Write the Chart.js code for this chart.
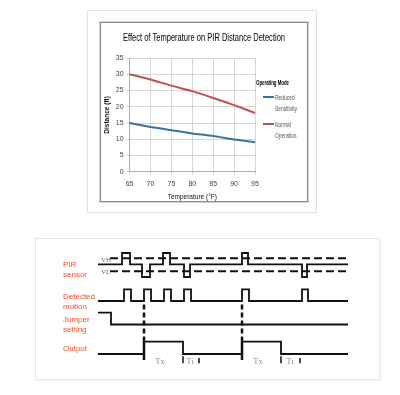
<!DOCTYPE html>
<html>
<head>
<meta charset="utf-8">
<script src="https://cdn.jsdelivr.net/npm/chart.js@4.4.0/dist/chart.umd.min.js"></script>
<style>
  html, body { margin: 0; padding: 0; background: #fff; width: 400px; height: 395px; overflow: hidden; position: relative; }
  #outerTop { position: absolute; left: 87px; top: 10px; width: 230px; height: 203px; border: 1px solid #e2e2e2; box-sizing: border-box; }
  #plotBox { position: absolute; left: 100px; top: 22px; width: 208px; height: 180px; border: 1px solid #8a8a8a; box-shadow: 0 0 0 1px #d2d2d2; box-sizing: border-box; background: #fff; }
  #diagBox { position: absolute; left: 35px; top: 238px; width: 345px; height: 142px; border: 1px solid #e6e6e6; box-sizing: border-box; box-shadow: 1px 1px 2px rgba(0,0,0,0.05); }
  canvas { display: block; }
</style>
</head>
<body>
<div id="outerTop"></div>
<div id="plotBox"><canvas id="tempChart" width="206" height="178"></canvas></div>
<div id="diagBox"><canvas id="timingChart" width="343" height="140"></canvas></div>
<script>
// top chart: detection distance vs temperature
const temps = ['65', '70', '75', '80', '85', '90', '95'];
const reducedDist = [15, 13.8, 12.8, 11.8, 11, 9.9, 9.1];
const normalDist = [30, 28.4, 26.5, 24.8, 22.7, 20.5, 18.1];
const reducedLegend = ['Reduced', 'Sensitivity'];
const normalLegend = ['Normal', 'Operation'];
const chartTitle = 'Effect of Temperature on PIR Distance Detection';

// timing diagram (time in arbitrary units, levels per lane)
const tEnd = 250;
const pirUpPulses = [[24, 32], [65, 72], [144, 150]];
const pirDownPulses = [[44, 52], [86, 92], [204, 209]];
const motionPulses = [[26, 33], [46, 53], [66, 73], [86, 93], [144, 151], [204, 210]];
const jumperFall = 13;
const outputHigh = [[46, 85], [144, 183]];
const triggerTimes = [46, 144];
const intervalEnds = [[85, 101], [183, 202]];
const txTimes = [62, 160];
const tiTimes = [92, 192];
const laneLabels = [['PIR', 'sensor'], ['Detected', 'motion'], ['Jumper', 'setting'], ['Output']];
const laneLabelLevels = [11.5, 8.3, 6.0, 3.1];

const pir = { base: 11.57, high: 12.7, low: 10.3, vh: 12.17, vl: 10.88 };
const motion = { low: 7.9, high: 9.07 };
const jumper = { high: 6.73, low: 5.55 };
const output = { low: 2.6, high: 3.83 };

const sans = "'Liberation Sans', Arial, sans-serif";

// no condensed font installed, so squeeze text horizontally like the Calibri original
const squeezeText = (ctx, text, x, y, factor) => ctx.fillText(text, x, y, ctx.measureText(text).width * factor);

const titleLegendPlugin = {
  id: 'titleLegend',
  afterDraw(chart) {
    const { ctx, chartArea, width } = chart;
    ctx.save();
    ctx.textBaseline = 'middle';
    ctx.textAlign = 'center';
    ctx.fillStyle = '#000';
    ctx.font = `11px ${sans}`;
    ctx.fillText(chartTitle, width / 2, 15, 162);

    const x0 = chartArea.right + 1;
    ctx.textAlign = 'left';
    ctx.font = `bold 7px ${sans}`;
    squeezeText(ctx, 'Operating Mode', x0, chartArea.top + 25, 0.62);
    ctx.font = `7px ${sans}`;
    chart.data.datasets.forEach((ds, i) => {
      const y = chartArea.top + 39 + i * 27;
      ctx.strokeStyle = ds.borderColor;
      ctx.lineWidth = 2;
      ctx.beginPath();
      ctx.moveTo(x0 + 7, y);
      ctx.lineTo(x0 + 18, y);
      ctx.stroke();
      ctx.fillStyle = '#555';
      ds.legendLines.forEach((line, j) => squeezeText(ctx, line, x0 + 19, y + 1 + j * 11, 0.7));
    });
    ctx.restore();
  }
};

new Chart(document.getElementById('tempChart'), {
  type: 'line',
  data: {
    labels: temps,
    datasets: [
      { label: 'Reduced Sensitivity', legendLines: reducedLegend, data: reducedDist, borderColor: '#3a72a6', borderWidth: 2, pointRadius: 0, tension: 0.2 },
      { label: 'Normal Operation', legendLines: normalLegend, data: normalDist, borderColor: '#c0504d', borderWidth: 2, pointRadius: 0, tension: 0.2 }
    ]
  },
  options: {
    responsive: false,
    animation: false,
    layout: { padding: { left: 2, right: 0, top: 35, bottom: 0 } },
    plugins: {
      legend: { display: false },
      tooltip: { enabled: false },
      title: { display: false }
    },
    scales: {
      x: {
        grid: { color: '#d6d6d6', tickLength: 3 },
        border: { color: '#b0b0b0' },
        ticks: { color: '#444', font: { family: sans, size: 7 }, maxRotation: 0, padding: 5 },
        title: { display: true, text: 'Temperature (°F)', color: '#111', font: { family: sans, size: 6.5 }, padding: { top: 0, bottom: 0 } }
      },
      y: {
        min: 0,
        max: 35,
        grid: { color: '#d6d6d6', tickLength: 3 },
        border: { color: '#b0b0b0' },
        ticks: { stepSize: 5, color: '#444', font: { family: sans, size: 7 }, padding: 3 },
        title: { display: true, text: 'Distance (ft)', color: '#111', font: { family: sans, size: 6.5, weight: 'bold' }, padding: { top: 0, bottom: 2 } }
      },
      // keeps room on the right for the legend
      legendSpace: {
        position: 'right',
        display: true,
        grid: { display: false },
        border: { display: false },
        ticks: { display: false },
        afterFit: (scale) => { scale.width = 52; }
      }
    }
  },
  plugins: [titleLegendPlugin]
});

// build a step waveform from a base level and [start, end, level] pulses
function stepWave(base, pulses, start = 0) {
  const pts = [{ x: start, y: base }];
  pulses.sort((a, b) => a[0] - b[0]).forEach(([a, b, lvl]) => {
    pts.push({ x: a, y: base }, { x: a, y: lvl }, { x: b, y: lvl }, { x: b, y: base });
  });
  pts.push({ x: tEnd, y: base });
  return pts;
}

const wave = (data, extra = {}) => ({ data, borderColor: '#111', borderWidth: 1.8, pointRadius: 0, tension: 0, ...extra });

const pirWave = stepWave(pir.base, [
  ...pirUpPulses.map(([a, b]) => [a, b, pir.high]),
  ...pirDownPulses.map(([a, b]) => [a, b, pir.low])
]);
const motionWave = stepWave(motion.low, motionPulses.map(([a, b]) => [a, b, motion.high]));
const jumperWave = [{ x: 0, y: jumper.high }, { x: jumperFall, y: jumper.high }, { x: jumperFall, y: jumper.low }, { x: tEnd, y: jumper.low }];
const outputWave = stepWave(output.low, outputHigh.map(([a, b]) => [a, b, output.high]));

const timingSets = [
  wave([{ x: 12, y: pir.vh }, { x: tEnd, y: pir.vh }], { borderWidth: 2, borderDash: [8, 4] }),
  wave([{ x: 12, y: pir.vl }, { x: tEnd, y: pir.vl }], { borderWidth: 2, borderDash: [8, 4] }),
  wave(pirWave),
  wave(motionWave),
  wave(jumperWave),
  wave(outputWave)
];
triggerTimes.forEach((t) => {
  timingSets.push(wave([{ x: t, y: motion.low - 0.35 }, { x: t, y: output.high }], { borderWidth: 2.5, borderDash: [5, 3] }));
  timingSets.push(wave([{ x: t, y: output.high }, { x: t, y: 2.0 }], { borderWidth: 2.5 }));
});
intervalEnds.forEach(([a, b]) => {
  timingSets.push(wave([{ x: a, y: 2.37 }, { x: a, y: 1.67 }], { borderWidth: 1.5 }));
  timingSets.push(wave([{ x: b, y: 2.2 }, { x: b, y: 1.67 }], { borderWidth: 1.5 }));
});

const diagramText = {
  id: 'diagramText',
  afterDraw(chart) {
    const { ctx, scales: { x, y } } = chart;
    ctx.save();
    ctx.textBaseline = 'middle';
    ctx.fillStyle = '#ff4a26';
    ctx.font = `8px ${sans}`;
    laneLabels.forEach((lines, i) => {
      lines.forEach((line, j) => ctx.fillText(line, x.getPixelForValue(-35), y.getPixelForValue(laneLabelLevels[i] - j * 0.95)));
    });
    ctx.fillStyle = '#666';
    ctx.font = "7px 'Liberation Serif', 'DejaVu Serif', serif";
    ctx.fillText('VH', x.getPixelForValue(3), y.getPixelForValue(11.95));
    ctx.fillText('VL', x.getPixelForValue(3), y.getPixelForValue(10.8));
    ctx.fillStyle = '#888';
    ctx.font = "8px 'Liberation Serif', 'DejaVu Serif', serif";
    ctx.textAlign = 'center';
    txTimes.forEach((t) => ctx.fillText('Tx', x.getPixelForValue(t), y.getPixelForValue(1.8)));
    tiTimes.forEach((t) => ctx.fillText('Ti', x.getPixelForValue(t), y.getPixelForValue(1.8)));
    ctx.restore();
  }
};

new Chart(document.getElementById('timingChart'), {
  type: 'line',
  data: { datasets: timingSets },
  options: {
    responsive: false,
    animation: false,
    parsing: false,
    layout: { padding: 0 },
    plugins: { legend: { display: false }, tooltip: { enabled: false }, title: { display: false } },
    scales: {
      x: { type: 'linear', min: -62, max: 281, display: false },
      y: { type: 'linear', min: 0.1, max: 14.1, display: false }
    }
  },
  plugins: [diagramText]
});
</script>
</body>
</html>
